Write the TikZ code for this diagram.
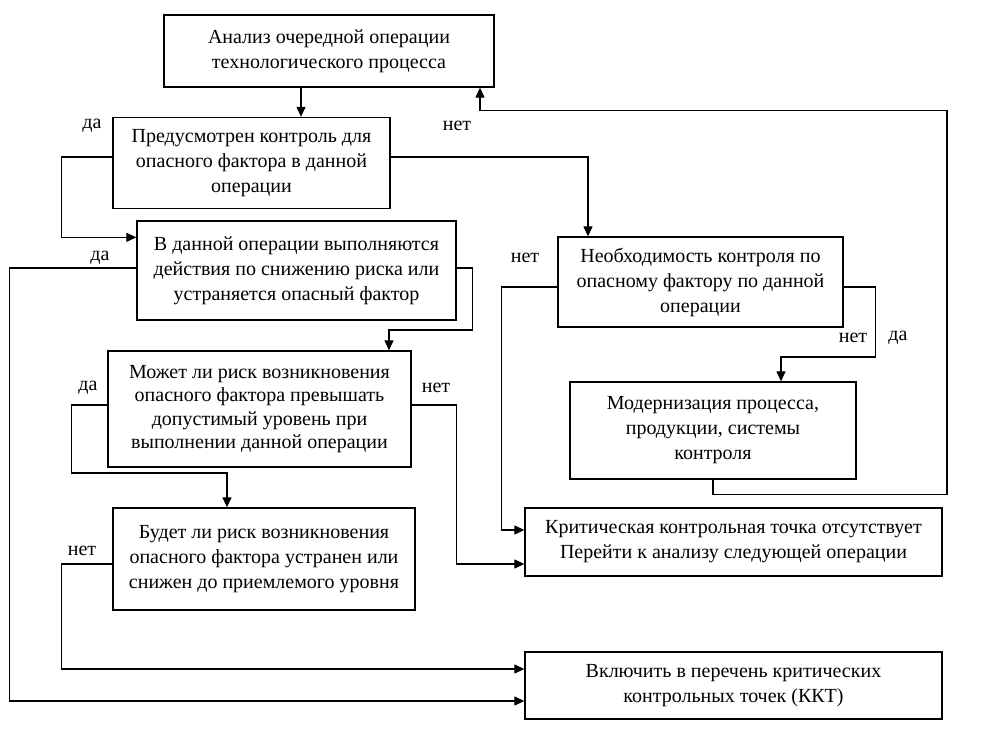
\documentclass[tikz,border=0pt]{standalone}
\usepackage{fontspec}
\setmainfont{Liberation Serif}
\usetikzlibrary{arrows.meta}
\begin{document}
\begin{tikzpicture}[x=1pt,y=-1pt,
  box/.style={draw=black,line width=1.3pt,inner sep=0pt,align=center,
    font=\fontsize{20}{25}\selectfont},
  arr/.style={line width=1.2pt,-{Triangle[length=10pt,width=9pt]}},
  lbl/.style={font=\fontsize{20}{22}\selectfont,inner sep=0pt}]
\useasboundingbox (0,0) rectangle (994,746);
\node[box,minimum width=330pt,minimum height=72pt] (b1) at (329,51) {Анализ очередной операции\\технологического процесса};
\node[box,minimum width=277pt,minimum height=91pt] (b2) at (251.5,163) {Предусмотрен контроль для\\опасного фактора в данной\\операции};
\node[box,minimum width=319pt,minimum height=99pt] (b3) at (296.5,270.5) {В данной операции выполняются\\действия по снижению риска или\\устраняется опасный фактор};
\node[box,minimum width=285pt,minimum height=90pt] (b4) at (700.5,282) {Необходимость контроля по\\опасному фактору по данной\\операции};
\node[box,minimum width=303pt,minimum height=116pt,font=\fontsize{20}{23.5}\selectfont] (b5) at (259.5,409) {Может ли риск возникновения\\опасного фактора превышать\\допустимый уровень при\\выполнении данной операции};
\node[box,minimum width=286pt,minimum height=97pt] (b9) at (713,430.5) {Модернизация процесса,\\продукции, системы\\контроля};
\node[box,minimum width=302pt,minimum height=102pt] (b6) at (264,559) {Будет ли риск возникновения\\опасного фактора устранен или\\снижен до приемлемого уровня};
\node[box,minimum width=417pt,minimum height=68pt] (b8) at (733.5,542) {Критическая контрольная точка отсутствует\\Перейти к анализу следующей операции};
\node[box,minimum width=417pt,minimum height=67pt] (b7) at (733.5,685.5) {Включить в перечень критических\\контрольных точек (ККТ)};

\draw[arr] ([xshift=-28pt]b1.south) -- ([xshift=49.5pt]b2.north);
\draw[arr] ([yshift=6pt]b2.west) -- ++(-51,0) |- ([yshift=-17pt]b3.north west);
\draw[arr] ([yshift=6pt]b2.east) -| ([xshift=-112.5pt]b4.north);
\draw[arr] ([yshift=2.5pt]b3.west) -- ++(-127,0) |- ([yshift=-15.5pt]b7.west);
\draw[arr] ([yshift=2.5pt]b3.east) -- ++(16,0) -- ++(0,62) -| ([xshift=129.5pt]b5.north);
\draw[arr] ([yshift=4pt]b5.west) -- ++(-36,0) -- ++(0,68) -| ([xshift=-37pt]b6.north);
\draw[arr] ([yshift=4pt]b5.east) -- ++(45,0) |- ([yshift=-22pt]b8.west);
\draw[arr] ([yshift=-5pt]b6.west) -- ++(-51,0) |- ([yshift=16.5pt]b7.west);
\draw[arr] ([yshift=-5pt]b4.west) -- ++(-56,0) |- ([yshift=12pt]b8.west);
\draw[arr] ([yshift=-5pt]b4.east) -- ++(32,0) -- ++(0,70) -| ([xshift=68pt]b9.north);
\draw[arr] (b9.south) -- ++(0,15) -- ++(234,0) -- ++(0,-384) -| ([xshift=151pt]b1.south);

\node[lbl] (l1) at (92,126) {да};
\node[lbl] (l2) at (457,126) {нет};
\node[lbl] (l3) at (100,258) {да};
\node[lbl] (l4) at (88,388) {да};
\node[lbl] (l5) at (436,388) {нет};
\node[lbl] (l6) at (82,551) {нет};
\node[lbl] (l7) at (525,258) {нет};
\node[lbl] (l8) at (853,338) {нет};
\node[lbl] (l9) at (898,338) {да};
\end{tikzpicture}
\end{document}
